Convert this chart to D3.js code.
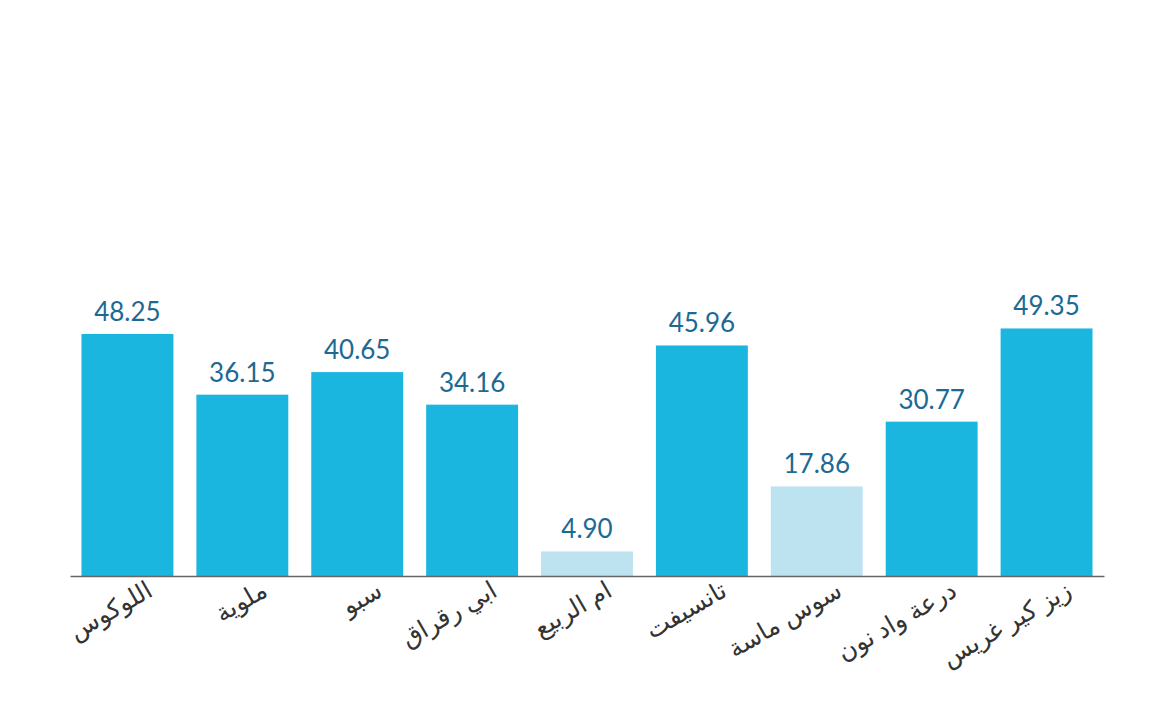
<!DOCTYPE html>
<html><head><meta charset="utf-8">
<script src="https://cdn.jsdelivr.net/npm/d3@7"></script>
<style>body{margin:0;background:#fff}</style>
</head><body><div id="chart"></div>
<script>
const basins = ["اللوكوس","ملوية","سبو","ابي رقراق","ام الربيع","تانسيفت","سوس ماسة","درعة واد نون","زيز كير غريس"]
const values = [48.25,36.15,40.65,34.16,4.90,45.96,17.86,30.77,49.35]
const low = [false,false,false,false,true,false,true,false,false]

const width = 1150, height = 726
const svg = d3.select("#chart").append("svg").attr("width", width).attr("height", height)

const x = d3.scaleBand().domain(basins).range([70, 1104]).paddingInner(0.2).paddingOuter(0.1)
const y = d3.scaleLinear().domain([0, 100]).range([576, 74.4])

svg.append("g").selectAll("rect").data(values).enter().append("rect")
  .attr("x", (d, i) => x(basins[i]))
  .attr("y", d => y(d))
  .attr("width", x.bandwidth())
  .attr("height", d => y(0) - y(d))
  .attr("fill", (d, i) => low[i] ? "#bde3f0" : "#1ab6e0")

svg.append("g").selectAll("text").data(values).enter().append("text")
  .attr("x", (d, i) => x(basins[i]) + x.bandwidth() / 2)
  .attr("y", d => y(d) - 13)
  .attr("text-anchor", "middle")
  .style("font-family", "Lato, 'Noto Sans', sans-serif")
  .style("font-size", "26px")
  .attr("fill", "#1c6a94")
  .text(d => d.toFixed(2))

const axis = svg.append("g").attr("transform", `translate(0,${y(0)})`)
  .call(d3.axisBottom(x).tickSize(0).tickSizeOuter(0))
axis.select(".domain").attr("stroke", "#666").attr("stroke-width", 1.5)
axis.selectAll("text")
  .style("font-family", "'Noto Sans', 'DejaVu Sans', sans-serif")
  .style("font-size", "25px")
  .attr("fill", "#333")
  .attr("text-anchor", "end")
  .attr("y", 0)
  .attr("dy", "0.7em")
  .attr("transform", "translate(18,4) rotate(-30)")
</script></body></html>
